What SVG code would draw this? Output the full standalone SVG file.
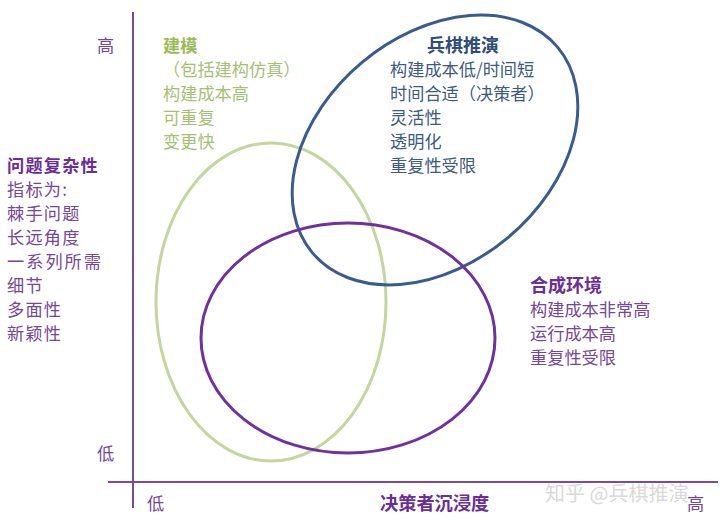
<svg xmlns="http://www.w3.org/2000/svg" width="720" height="520" viewBox="0 0 720 520">
<style>
text{font-family:"Noto Sans CJK SC","Liberation Sans",sans-serif;font-size:17.2px}
.b{font-weight:bold}
.green{fill:#a6bf74}
.greenT{fill:#9bbb59}
.blue{fill:#3d5a82}
.blueT{fill:#2f4d7a}
.purp{fill:#74479c}
.purpT{fill:#6a2e9a}
.axis{stroke:#7a4aa3;stroke-width:2;fill:none}
.ell{fill:none;stroke-width:3}
.left{letter-spacing:1.2px}
</style>
<rect width="720" height="520" fill="#ffffff"/>

<g id="axes">
  <line class="axis" x1="133" y1="12" x2="133" y2="508"/>
  <line class="axis" x1="108" y1="482" x2="718" y2="482"/>
  <text class="purp" x="97" y="52">高</text>
  <text class="purp" x="97" y="460">低</text>
  <text class="purp" x="147" y="510">低</text>
  <text class="purpT b" x="380" y="510" style="font-size:18.2px">决策者沉浸度</text>
  <text class="purp" x="687" y="510">高</text>
</g>

<g id="modeling">
  <ellipse class="ell" cx="271" cy="302" rx="115" ry="159" stroke="#c4d69e"/>
  <text class="greenT b" x="163" y="52">建模</text>
  <text class="green" x="163" y="76">（包括建构仿真）</text>
  <text class="green" x="163" y="100">构建成本高</text>
  <text class="green" x="163" y="124">可重复</text>
  <text class="green" x="163" y="148">变更快</text>
</g>

<g id="wargaming">
  <ellipse class="ell" cx="435" cy="150" rx="160" ry="114" transform="rotate(-40 435 150)" stroke="#3a5c8c"/>
  <text class="blueT b" x="463" y="52" text-anchor="middle" style="font-size:18px">兵棋推演</text>
  <text class="blue" x="390" y="76">构建成本低/时间短</text>
  <text class="blue" x="390" y="100">时间合适（决策者）</text>
  <text class="blue" x="390" y="124">灵活性</text>
  <text class="blue" x="390" y="148">透明化</text>
  <text class="blue" x="390" y="172">重复性受限</text>
</g>

<g id="synthetic">
  <ellipse class="ell" cx="348" cy="338" rx="147" ry="115" stroke="#7030a0"/>
  <text class="purpT b" x="530" y="292" style="font-size:18px">合成环境</text>
  <text class="purp" x="530" y="316">构建成本非常高</text>
  <text class="purp" x="530" y="340">运行成本高</text>
  <text class="purp" x="530" y="364">重复性受限</text>
</g>

<g id="complexity">
  <text class="purpT b left" x="7" y="172">问题复杂性</text>
  <text class="purp left" x="7" y="196">指标为:</text>
  <text class="purp left" x="7" y="220">棘手问题</text>
  <text class="purp left" x="7" y="244">长远角度</text>
  <text class="purp" x="7" y="268" style="letter-spacing:2px">一系列所需</text>
  <text class="purp left" x="7" y="292">细节</text>
  <text class="purp left" x="7" y="316">多面性</text>
  <text class="purp left" x="7" y="340">新颖性</text>
</g>

<text x="545" y="501" style="font-size:20px;fill:#d2d2d2;fill-opacity:0.85">知乎 @兵棋推演</text>
</svg>
